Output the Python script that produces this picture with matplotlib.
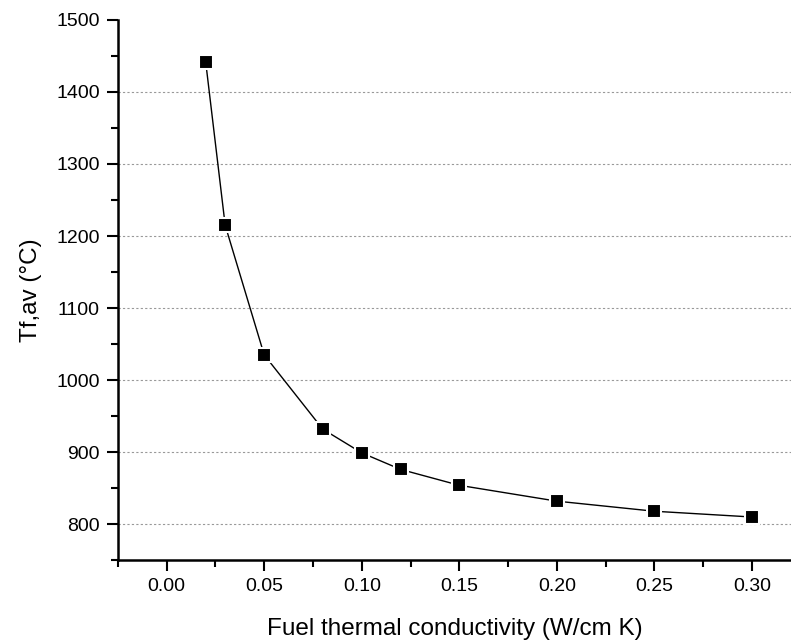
import numpy as np
import matplotlib.pyplot as plt
from matplotlib.ticker import MultipleLocator

# fuel thermal conductivity (W/cm K) and average fuel temperature (C)
conductivity = [0.02, 0.03, 0.05, 0.08, 0.10, 0.12, 0.15, 0.20, 0.25, 0.30]
tf_av = [1442, 1215, 1035, 932, 899, 876, 854, 832, 818, 810]

plt.rcParams['font.family'] = ['Liberation Sans', 'DejaVu Sans']

fig = plt.figure(figsize=(7.91, 6.41), dpi=100)
ax = fig.add_axes([0.149, 0.126, 0.851, 0.843])

ax.plot(conductivity, tf_av, color='black', lw=1.0, marker='s', ms=10,
        mfc='black', mec='white', mew=1.5)

ax.set_xlim(-0.025, 0.32)
ax.set_ylim(750, 1500)
ax.xaxis.set_minor_locator(MultipleLocator(0.025))
ax.yaxis.set_minor_locator(MultipleLocator(50))
xt = np.arange(0, 0.31, 0.05)
ax.set_xticks(xt)
ax.set_xticklabels(['%.2f' % v for v in xt])
ax.set_yticks(np.arange(800, 1501, 100))

ax.grid(axis='y', which='major', color='#999999', linestyle=(0, (2, 2)), lw=0.8)
ax.yaxis.get_gridlines()[-1].set_visible(False)  # no line at the top
ax.spines['top'].set_visible(False)
ax.spines['right'].set_visible(False)
ax.spines['left'].set_linewidth(1.8)
ax.spines['bottom'].set_linewidth(1.8)
ax.tick_params(which='major', direction='out', length=8, width=1.5, labelsize=14, pad=5)
ax.tick_params(which='minor', direction='out', length=5, width=1.5)

ax.set_xlabel('Fuel thermal conductivity (W/cm K)', fontsize=17.5, labelpad=16)
ax.set_ylabel('Tf,av (°C)', fontsize=17.5, labelpad=10)

fig.savefig('out.png', dpi=100)
